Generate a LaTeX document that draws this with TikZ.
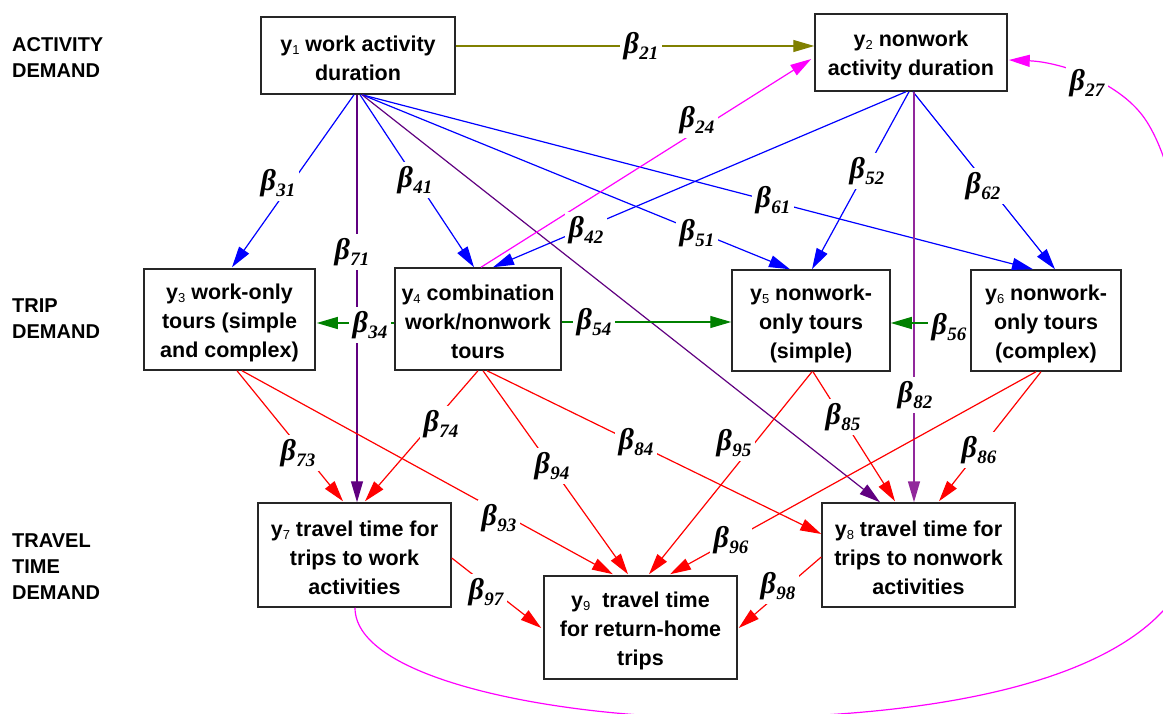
\documentclass[tikz,border=0pt]{standalone}
\usepackage{fontspec}
\setmainfont{Liberation Sans}
\newfontfamily\lserif{Liberation Serif}
\usetikzlibrary{arrows.meta,calc}
\definecolor{olv}{RGB}{128,128,0}
\definecolor{mag}{RGB}{255,0,255}
\definecolor{blu}{RGB}{0,0,255}
\definecolor{grn}{RGB}{0,128,0}
\definecolor{rd}{RGB}{255,0,0}
\definecolor{dpur}{RGB}{96,0,128}
\definecolor{lpur}{RGB}{145,40,155}
\newcommand{\bl}[1]{{\lserif\bfseries\itshape\fontsize{30}{30}\selectfont β\kern0.5pt\raisebox{-6pt}{\fontsize{19}{19}\selectfont #1}}}
\newcommand{\ys}[1]{\rule{0pt}{22pt}y\raisebox{-3pt}{\fontsize{13}{13}\selectfont\mdseries #1}}
\begin{document}
\begin{tikzpicture}[x=1pt,y=-1pt,
 box/.style={draw=black!85,line width=1.5pt,align=center,font=\bfseries\fontsize{21.5}{29}\selectfont,inner sep=0pt},
 side/.style={anchor=west,align=left,font=\bfseries\fontsize{20}{26}\selectfont,inner sep=0pt},
 lab/.style={fill=white,inner sep=4pt},
 edge/.style={line width=1.2pt,-{Triangle[length=21pt,width=12pt]}},
]
\useasboundingbox (0,0) rectangle (1163,714);
\clip (0,0) rectangle (1163,714);

% side labels
\node[side] (sa) at (12,58) {ACTIVITY\\DEMAND};
\node[side] (sb) at (12,319) {TRIP\\DEMAND};
\node[side] (sc) at (12,567) {TRAVEL\\TIME\\DEMAND};

% boxes
\node[box,minimum width=194pt,minimum height=77pt] (y1) at (358,55.5) {\ys{1} work activity\\duration};
\node[box,minimum width=192pt,minimum height=77pt] (y2) at (911,52.5) {\ys{2} nonwork\\activity duration};
\node[box,minimum width=171pt,minimum height=101pt] (y3) at (229.5,319.5) {\ys{3} work-only\\tours (simple\\and complex)};
\node[box,minimum width=166pt,minimum height=102pt] (y4) at (478,319) {\ys{4} combination\\work/nonwork\\tours};
\node[box,minimum width=158pt,minimum height=101pt] (y5) at (811,320.5) {\ys{5} nonwork-\\only tours\\(simple)};
\node[box,minimum width=150pt,minimum height=101pt] (y6) at (1046,320.5) {\ys{6} nonwork-\\only tours\\(complex)};
\node[box,minimum width=193pt,minimum height=104pt] (y7) at (354.5,555) {\ys{7} travel time for\\trips to work\\activities};
\node[box,minimum width=193pt,minimum height=104pt] (y8) at (918.5,555) {\ys{8} travel time for\\trips to nonwork\\activities};
\node[box,minimum width=193pt,minimum height=103pt] (y9) at (640.5,627.5) {\ys{9}\ \ travel time\\for return-home\\trips};

% olive
\draw[edge,olv] ($(y1.east)+(0,-9.5)$) -- ($(y2.west)+(0,-6.5)$);
% blue
\draw[edge,blu] ($(y1.south)+(-4,0)$) -- ($(y3.north)+(2.5,-1)$);
\draw[edge,blu] ($(y1.south)+(2,0)$) -- ($(y4.north)+(-4,0)$);
\draw[edge,blu] ($(y1.south)+(4,0)$) -- ($(y5.north)+(-21,0)$);
\draw[edge,blu] ($(y1.south)+(4,0)$) -- ($(y6.north)+(-13,0)$);
\draw[edge,blu] ($(y2.south)+(-5,0)$) -- ($(y4.north)+(15,0)$);
\draw[edge,blu] ($(y2.south)+(-2,0)$) -- ($(y5.north)+(1,0)$);
\draw[edge,blu] ($(y2.south)+(2,0)$) -- ($(y6.north)+(9,0)$);
% purple
\draw[edge,dpur] ($(y1.south)+(-1,0)$) -- ($(y7.north)+(2.5,0)$);
\draw[edge,dpur] ($(y1.south)+(4,0)$) -- ($(y8.north)+(-38.5,0)$);
\draw[edge,lpur,line width=1.6pt] ($(y2.south)+(3,0)$) -- ($(y8.north)+(-4.5,0)$);
% magenta
\draw[edge,mag] ($(y4.north)+(3,0)$) -- ($(y2.west)+(-3,6.5)$);
% green
\draw[edge,grn] ($(y4.west)+(0,4)$) -- ($(y3.east)+(1,3.5)$);
\draw[edge,grn] ($(y4.east)+(0,3)$) -- ($(y5.west)+(0,1.5)$);
\draw[edge,grn] ($(y6.west)+(0,2.5)$) -- ($(y5.east)+(0,2.5)$);
% red
\draw[edge,rd] ($(y3.south)+(7.5,0)$) -- ($(y7.north)+(-11.5,-1)$);
\draw[edge,rd] ($(y3.south)+(12.5,0)$) -- ($(y9.north)+(-27.5,-1)$);
\draw[edge,rd] ($(y4.south)+(0,0)$) -- ($(y7.north)+(10.5,-1)$);
\draw[edge,rd] ($(y4.south)+(5,0)$) -- ($(y9.north)+(-12.5,-1)$);
\draw[edge,rd] ($(y4.south)+(9,0)$) -- ($(y8.west)+(0,-21)$);
\draw[edge,rd] ($(y5.south)+(1,0)$) -- ($(y9.north)+(8.5,-1)$);
\draw[edge,rd] ($(y5.south)+(2,0)$) -- ($(y8.north)+(-23.5,-1)$);
\draw[edge,rd] ($(y6.south)+(-10,0)$) -- ($(y9.north)+(29.5,-1)$);
\draw[edge,rd] ($(y6.south)+(-5,0)$) -- ($(y8.north)+(20.5,-1)$);
\draw[edge,rd] ($(y7.east)+(0,3)$) -- ($(y9.west)+(-2,0.5)$);
\draw[edge,rd] ($(y8.west)+(0,2)$) -- ($(y9.east)+(1,0.5)$);
% magenta feedback curve
\coordinate (c1) at (720,718);
\coordinate (c2) at (1196,530);
\coordinate (c3) at (1147,122);
\draw[edge,mag] ($(y7.south)+(0.5,0)$) .. controls (355,680) and (560,718) .. (c1)
  .. controls (1020,718) and (1196,650) .. (c2)
  .. controls (1196,390) and (1196,200) .. (c3)
  .. controls (1122,82) and (1060,62) .. ($(y2.east)+(1,7.5)$);

% labels
\node[lab] (l21) at (641,46) {\bl{21}};
\node[lab] (l24) at (697,120) {\bl{24}};
\node[lab] (l27) at (1087,83) {\bl{27}};
\node[lab] (l31) at (278,183) {\bl{31}};
\node[lab] (l71) at (352,252) {\bl{71}};
\node[lab] (l41) at (415,180) {\bl{41}};
\node[lab] (l42) at (586,230) {\bl{42}};
\node[lab] (l51) at (697,233) {\bl{51}};
\node[lab] (l61) at (773,200) {\bl{61}};
\node[lab] (l52) at (867,171) {\bl{52}};
\node[lab] (l62) at (983,186) {\bl{62}};
\node[lab] (l34) at (370,325) {\bl{34}};
\node[lab] (l54) at (594,322) {\bl{54}};
\node[lab] (l56) at (949,327) {\bl{56}};
\node[lab] (l82) at (915,395) {\bl{82}};
\node[lab] (l73) at (298,453) {\bl{73}};
\node[lab] (l74) at (441,424) {\bl{74}};
\node[lab] (l94) at (552,466) {\bl{94}};
\node[lab] (l84) at (636,442) {\bl{84}};
\node[lab] (l95) at (734,443) {\bl{95}};
\node[lab] (l85) at (843,417) {\bl{85}};
\node[lab] (l86) at (979,450) {\bl{86}};
\node[lab] (l93) at (499,518) {\bl{93}};
\node[lab] (l96) at (731,540) {\bl{96}};
\node[lab] (l97) at (486,592) {\bl{97}};
\node[lab] (l98) at (778,586) {\bl{98}};
\end{tikzpicture}
\end{document}
